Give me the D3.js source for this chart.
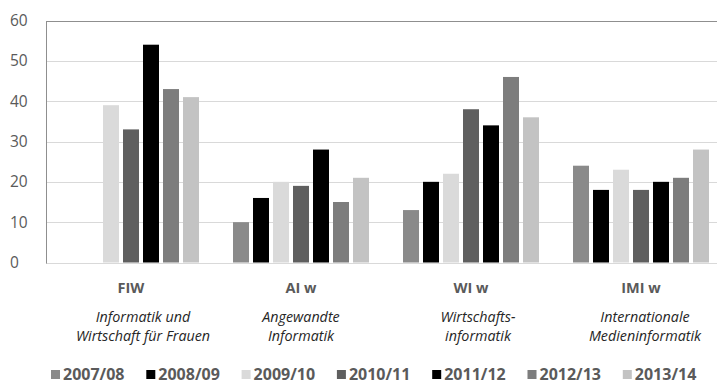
<!DOCTYPE html>
<html>
<head>
<meta charset="utf-8">
<script src="https://cdn.jsdelivr.net/npm/d3@7"></script>
<style>
  html, body { margin: 0; padding: 0; background: #fff; }
  svg { display: block; }
</style>
</head>
<body>
<svg id="chart" width="717" height="383"></svg>
<script>
// ---- data ----
const categories = ["FIW", "AI w", "WI w", "IMI w"];
const subtitles = [
  ["Informatik und", "Wirtschaft für Frauen"],
  ["Angewandte", "Informatik"],
  ["Wirtschafts-", "informatik"],
  ["Internationale", "Medieninformatik"]
];
const seriesNames = ["2007/08", "2008/09", "2009/10", "2010/11", "2011/12", "2012/13", "2013/14"];
const v2007 = [0, 10, 13, 24];
const v2008 = [0, 16, 20, 18];
const v2009 = [39, 20, 22, 23];
const v2010 = [33, 19, 38, 18];
const v2011 = [54, 28, 34, 20];
const v2012 = [43, 15, 46, 21];
const v2013 = [41, 21, 36, 28];
const seriesValues = [v2007, v2008, v2009, v2010, v2011, v2012, v2013];
const seriesColors = ["#8a8a8a", "#000000", "#dadada", "#5f5f5f", "#000000", "#7d7d7d", "#c3c3c3"];
const yTicks = [0, 10, 20, 30, 40, 50, 60];

// ---- layout ----
const svg = d3.select("#chart");
const plotLeft = 46, plotTop = 20.5, plotBottom = 262.5;
const x0 = d3.scaleBand().domain(categories).range([plotLeft, plotLeft + 680]).padding(0);
const x1 = d3.scaleBand().domain(seriesNames).range([0, x0.bandwidth()])
  .paddingInner(0.2).paddingOuter(0.85);
const y = d3.scaleLinear().domain([0, 60]).range([plotBottom, plotTop]);

// gridlines
svg.append("g").selectAll("line").data(yTicks).join("line")
  .attr("x1", plotLeft).attr("x2", 717)
  .attr("y1", d => Math.round(y(d)) + 0.5).attr("y2", d => Math.round(y(d)) + 0.5)
  .attr("stroke", d => d === 60 ? "#8f8f8f" : "#d9d9d9")
  .attr("stroke-width", 1);

// left axis line
svg.append("line")
  .attr("x1", plotLeft + 0.5).attr("x2", plotLeft + 0.5)
  .attr("y1", Math.round(y(60)) + 0.5).attr("y2", Math.round(y(0)) + 0.5)
  .attr("stroke", "#8f8f8f");

// y tick labels
svg.append("g").selectAll("text").data(yTicks).join("text")
  .attr("x", 10).attr("y", d => y(d))
  .attr("dy", "0.35em")
  .attr("font-family", "Open Sans, sans-serif")
  .attr("font-size", 15.5)
  .attr("fill", "#5a5a5a")
  .text(d => d);

// bars
const groups = svg.append("g").selectAll("g").data(categories).join("g")
  .attr("transform", d => `translate(${x0(d)},0)`);
groups.selectAll("rect")
  .data((c, ci) => seriesNames.map((s, si) => ({ s, si, v: seriesValues[si][ci] })))
  .join("rect")
  .attr("x", d => x1(d.s))
  .attr("width", x1.bandwidth())
  .attr("y", d => y(d.v))
  .attr("height", d => y(0) - y(d.v))
  .attr("fill", d => seriesColors[d.si]);

// category labels
const subOffsets = [12, 0, 7, 4];
categories.forEach((c, i) => {
  const cx = x0(c) + x0.bandwidth() / 2;
  svg.append("text")
    .attr("x", cx).attr("y", 293)
    .attr("text-anchor", "middle")
    .attr("font-family", "Open Sans, sans-serif")
    .attr("font-weight", "bold")
    .attr("font-size", 14.5)
    .attr("fill", "#5a5a5a")
    .text(c);
  subtitles[i].forEach((line, li) => {
    svg.append("text")
      .attr("x", cx + subOffsets[i]).attr("y", 321.5 + li * 19)
      .attr("text-anchor", "middle")
      .attr("font-family", "Open Sans, sans-serif")
      .attr("font-style", "italic")
      .attr("font-size", 14.3)
      .attr("fill", "#262626")
      .text(line);
  });
});

// legend
const legend = svg.append("g").selectAll("g").data(seriesNames).join("g")
  .attr("transform", (d, i) => `translate(${51 + i * 95.3},0)`);
legend.append("rect")
  .attr("x", 0).attr("y", 370).attr("width", 9).attr("height", 9)
  .attr("fill", (d, i) => seriesColors[i]);
legend.append("text")
  .attr("x", 12).attr("y", 379.5)
  .attr("font-family", "Open Sans, sans-serif")
  .attr("font-weight", "bold")
  .attr("font-size", 16)
  .attr("fill", "#5a5a5a")
  .text(d => d);
</script>
</body>
</html>
